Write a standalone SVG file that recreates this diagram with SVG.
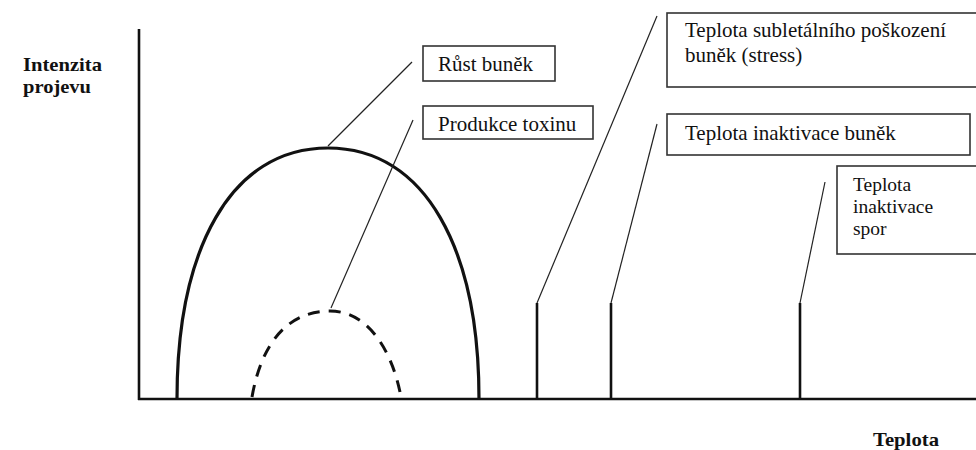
<svg xmlns="http://www.w3.org/2000/svg" width="976" height="450" viewBox="0 0 976 450">
<style>
.box{fill:#fff;stroke:#333;stroke-width:1.6}
.t{font-family:"Liberation Serif","Times New Roman","DejaVu Serif",serif;font-size:21px;fill:#111}
.s{font-size:19.5px}
.b{font-family:"Liberation Serif","Times New Roman","DejaVu Serif",serif;font-size:19px;font-weight:bold;fill:#111}
.ax{stroke:#111;stroke-width:2.6;fill:none}
.lead{stroke:#222;stroke-width:1.2;fill:none}
.curve{stroke:#111;stroke-width:3.2;fill:none}
.dash{stroke:#111;stroke-width:3;fill:none;stroke-dasharray:12 9}
.bar{stroke:#111;stroke-width:2.6}
</style>
<rect width="976" height="450" fill="#fff"/>
<g id="axes">
<line class="ax" x1="139" y1="29" x2="139" y2="400"/>
<line class="ax" x1="138" y1="399" x2="976" y2="399"/>
<text class="b" x="23" y="71" textLength="79" lengthAdjust="spacingAndGlyphs">Intenzita</text>
<text class="b" x="23" y="93" textLength="68" lengthAdjust="spacingAndGlyphs">projevu</text>
<text class="b" x="873" y="446" textLength="66" lengthAdjust="spacingAndGlyphs">Teplota</text>
</g>
<g id="curves">
<path class="curve" d="M177,399 C177,250 230,148 328,148 C426,148 479,250 479,399"/>
<path class="dash" d="M252,397 C262,340 290,311 330,311 C365,311 390,345 400,392"/>
<line class="bar" x1="537" y1="303" x2="537" y2="399"/>
<line class="bar" x1="611" y1="303" x2="611" y2="399"/>
<line class="bar" x1="800" y1="303" x2="800" y2="399"/>
</g>
<g id="connectors">
<line class="lead" x1="328" y1="146" x2="412" y2="62"/>
<line class="lead" x1="331" y1="308" x2="413" y2="120"/>
<line class="lead" x1="537" y1="303" x2="657" y2="16"/>
<line class="lead" x1="611" y1="303" x2="657" y2="124"/>
<line class="lead" x1="800" y1="303" x2="825" y2="182"/>
</g>
<g id="rust">
<rect class="box" x="423" y="46" width="132" height="35"/>
<text class="t" x="438" y="71">Růst buněk</text>
</g>
<g id="toxin">
<rect class="box" x="423" y="106" width="170" height="33"/>
<text class="t" x="438" y="131">Produkce toxinu</text>
</g>
<g id="subletal">
<rect class="box" x="667" y="13" width="320" height="74"/>
<text class="t" x="685" y="37">Teplota subletálního poškození</text>
<text class="t" x="685" y="62">buněk (stress)</text>
</g>
<g id="inakt-bunek">
<rect class="box" x="667" y="114" width="303" height="41"/>
<text class="t" x="685" y="140">Teplota inaktivace buněk</text>
</g>
<g id="inakt-spor">
<rect class="box" x="837" y="166" width="150" height="88"/>
<text class="t s" x="853" y="191">Teplota</text>
<text class="t s" x="853" y="213">inaktivace</text>
<text class="t s" x="853" y="235">spor</text>
</g>
</svg>
